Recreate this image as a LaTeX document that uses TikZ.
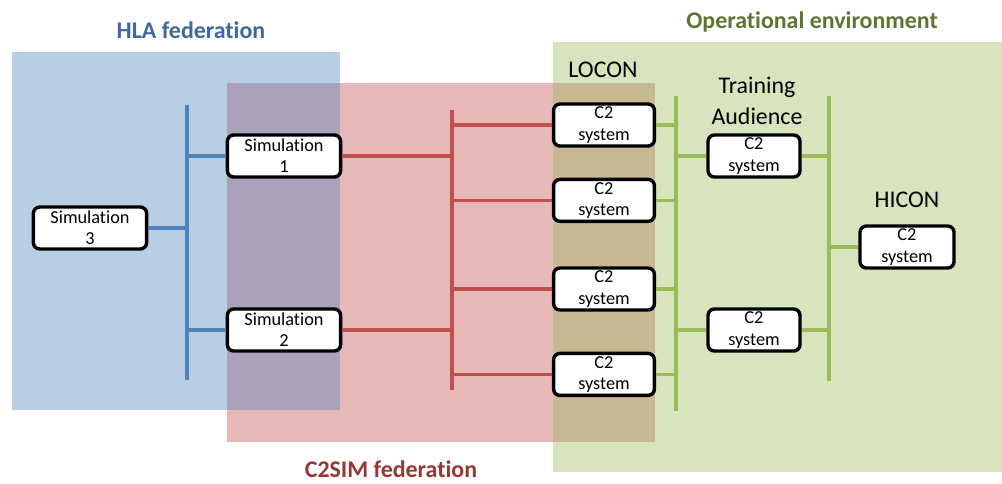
\documentclass[tikz,border=0pt]{standalone}
\usepackage{fontspec}
\setmainfont{Carlito}[Ligatures={NoCommon}]
\usetikzlibrary{positioning}
\definecolor{hlablue}{RGB}{79,129,189}
\definecolor{simred}{RGB}{192,80,77}
\definecolor{opgreen}{RGB}{155,187,89}
\definecolor{hlatitle}{RGB}{62,104,158}
\definecolor{simtitle}{RGB}{150,55,52}
\definecolor{optitle}{RGB}{94,117,48}

\begin{document}
\begin{tikzpicture}[x=0.025cm, y=-0.025cm,
    sysbox/.style={draw=black, line width=2.4pt, fill=white, rounded corners=1.6mm,
      align=center, inner sep=0pt, minimum height=1.05cm,
      font=\fontsize{13}{15}\selectfont},
    title/.style={font=\fontsize{17}{20}\selectfont\bfseries},
    lbl/.style={font=\fontsize{17}{22}\selectfont, align=center},
    bus/.style={line width=2.6pt}]
    \useasboundingbox (0,0) rectangle (1002,483);
    % federation areas
    \fill[simred, opacity=0.4] (227,83) rectangle (655,442);
    \fill[hlablue, opacity=0.4] (12,52) rectangle (340,410);
    \fill[opgreen, opacity=0.4] (553,42) rectangle (1002,472);
    \node[title, text=hlatitle] (hla) at (191,30) {HLA federation};
    \node[title, text=simtitle] (c2sim) at (391,469) {C2SIM federation};
    \node[title, text=optitle] (op) at (812,22) {Operational environment};
    \node[lbl] (locon) at (603,70) {LOCON};
    \node[lbl] (ta) at (757,101) {Training\\Audience};
    \node[lbl] (hicon) at (907,200) {HICON};
    % systems
    \node[sysbox, minimum width=2.83cm] (s1) at (284,156) {Simulation\\1};
    \node[sysbox, minimum width=2.83cm] (s2) at (284,330) {Simulation\\2};
    \node[sysbox, minimum width=2.83cm] (s3) at (90,228) {Simulation\\3};
    \node[sysbox, minimum width=2.52cm] (c1) at (604,125) {C2\\system};
    \node[sysbox, minimum width=2.52cm] (c2) [below=0.75cm of c1] {C2\\system};
    \node[sysbox, minimum width=2.52cm] (c3) at (604,289) {C2\\system};
    \node[sysbox, minimum width=2.52cm] (c4) [below=1cm of c3] {C2\\system};
    \node[sysbox, minimum width=2.3cm] (t1) at (754,156) {C2\\system};
    \node[sysbox, minimum width=2.3cm] (t2) at (754,330) {C2\\system};
    \node[sysbox, minimum width=2.35cm] (h1) at (907,247) {C2\\system};
    % buses
    \coordinate (hlatop) at (187,105);
    \coordinate (hlabot) at (187,380);
    \coordinate (simtop) at (452,110);
    \coordinate (simbot) at (452,390);
    \coordinate (lotop) at (676,96);
    \coordinate (lobot) at (676,411);
    \coordinate (hitop) at (829,96);
    \coordinate (hibot) at (829,381);
\begin{scope}[bus, hlablue]
    \draw (hlatop) -- (hlabot);
    \foreach \n in {s1,s2}
      \draw (\n.west) -- (\n.west -| hlatop);
    \draw (s3.east) -- (s3.east -| hlatop);
\end{scope}
\begin{scope}[bus, simred]
    \draw (simtop) -- (simbot);
    \foreach \n in {s1,s2}
      \draw (\n.east) -- (\n.east -| simtop);
    \foreach \n in {c1,c2,c3,c4}
      \draw (\n.west) -- (\n.west -| simtop);
\end{scope}
\begin{scope}[bus, opgreen]
    \draw (lotop) -- (lobot);
    \draw (hitop) -- (hibot);
    \foreach \n in {c1,c2,c3,c4}
      \draw (\n.east) -- (\n.east -| lotop);
    \foreach \n in {t1,t2} {
      \draw (\n.west) -- (\n.west -| lotop);
      \draw (\n.east) -- (\n.east -| hitop);
    }
    \draw (h1.west) -- (h1.west -| hitop);
\end{scope}
\end{tikzpicture}
\end{document}
